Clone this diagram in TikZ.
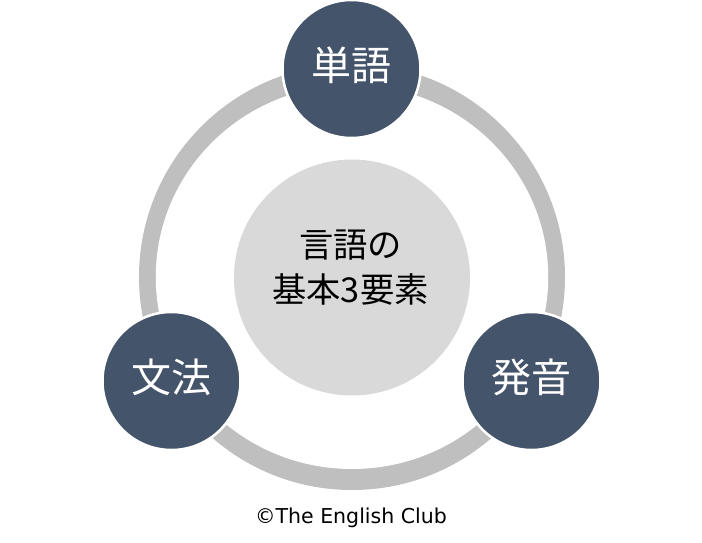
\documentclass[tikz,border=0pt]{standalone}
\usepackage{fontspec}
\usetikzlibrary{shapes.geometric}
\newfontfamily\cjk{Noto Sans CJK JP}
\setmainfont{DejaVu Sans}
\definecolor{navy}{HTML}{44546A}
\definecolor{ringgray}{HTML}{BFBFBF}
\definecolor{midgray}{HTML}{D9D9D9}
\tikzset{
  x=1pt,y=-1pt,
  topic/.style={circle,fill=navy,draw=white,line width=2.5pt,minimum size=138pt,inner sep=0pt,text=white},
  topictext/.style={inner sep=0pt,text=white,font=\cjk\fontsize{40}{40}\selectfont},
  hub/.style={circle,fill=midgray,minimum size=236pt,inner sep=0pt},
  hubtext/.style={inner sep=0pt,align=center,text=black,font=\cjk\fontsize{34.3}{45.5}\selectfont},
  ringouter/.style={circle,fill=ringgray,minimum size=426pt,inner sep=0pt},
  ringhole/.style={ellipse,fill=white,minimum width=392.5pt,minimum height=384pt,inner sep=0pt},
  credit/.style={inner sep=0pt,text=black,font=\fontsize{20.5}{24}\selectfont}
}
\begin{document}
\begin{tikzpicture}
\useasboundingbox (0,0) rectangle (702,542);
\node[ringouter] (ring) at (352,277) {};
\node[ringhole] (hole) at (352,277) {};
\node[hub] (hub) at (352,277.5) {};
\node[hubtext] (hublabel) at (350.5,267.5) {言語の\\基本3要素};
\node[topic] (word) at (351.5,69) {};
\node[topictext] (wordlabel) at (351,65) {単語};
\node[topic] (grammar) at (171.5,381) {};
\node[topictext] (grammarlabel) at (171,377) {文法};
\node[topic] (sound) at (531.5,381) {};
\node[topictext] (soundlabel) at (531,377) {発音};
\node[credit] (credit) at (351,517.5) {©The English Club};
\end{tikzpicture}
\end{document}
